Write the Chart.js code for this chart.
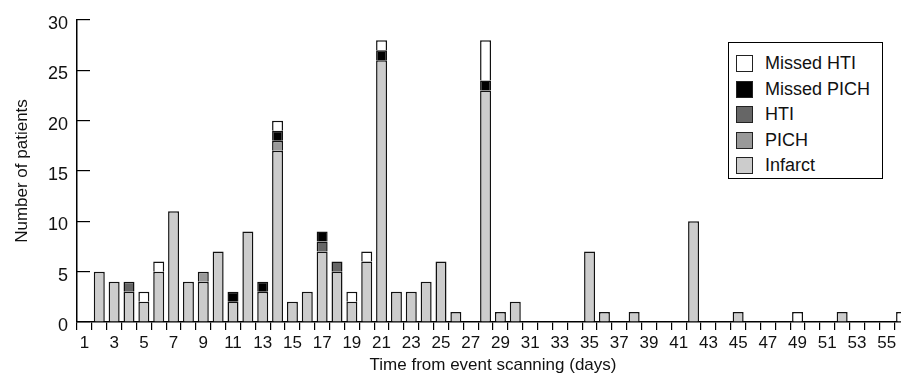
<!DOCTYPE html>
<html>
<head>
<meta charset="utf-8">
<script src="https://cdn.jsdelivr.net/npm/chart.js@4"></script>
<style>
  html, body { margin: 0; padding: 0; background: #fff; overflow: hidden; }
  #wrap { position: relative; width: 901px; height: 381px; overflow: hidden; }
  #legend {
    position: absolute; left: 728px; top: 42px; width: 155px; height: 137px;
    border: 1.5px solid #000; background: #fff; box-sizing: border-box;
    font-family: "Liberation Sans", Arial, sans-serif; font-size: 18px; color: #111;
    padding-top: 8px;
  }
  .item { display: flex; align-items: center; height: 25.5px; }
  .sw { width: 15px; height: 15px; border: 1.5px solid #222; margin-left: 7px; margin-right: 12px; }
</style>
</head>
<body>
<div id="wrap">
  <canvas id="chart" width="912" height="381"></canvas>
  <div id="legend"></div>
</div>
<script>
// days 1..56
const days = [];
for (let d = 1; d <= 56; d++) days.push(String(d));

const infarct = [0,5,4,3,2,5,11,4,4,7, 2,9,3,17,2,3,7,5,2,6, 26,3,3,4,6,1,0,23,1,2,
                 0,0,0,0,7,1,0,1,0,0, 0,10,0,0,1,0,0,0,0,0, 0,1,0,0,0,0];
const pich    = [0,0,0,0,0,0,0,0,1,0, 0,0,0,1,0,0,0,0,0,0, 0,0,0,0,0,0,0,0,0,0,
                 0,0,0,0,0,0,0,0,0,0, 0,0,0,0,0,0,0,0,0,0, 0,0,0,0,0,0];
const hti     = [0,0,0,1,0,0,0,0,0,0, 0,0,0,0,0,0,1,1,0,0, 0,0,0,0,0,0,0,0,0,0,
                 0,0,0,0,0,0,0,0,0,0, 0,0,0,0,0,0,0,0,0,0, 0,0,0,0,0,0];
const missedPich = [0,0,0,0,0,0,0,0,0,0, 1,0,1,1,0,0,1,0,0,0, 1,0,0,0,0,0,0,1,0,0,
                    0,0,0,0,0,0,0,0,0,0, 0,0,0,0,0,0,0,0,0,0, 0,0,0,0,0,0];
const missedHti  = [0,0,0,0,1,1,0,0,0,0, 0,0,0,1,0,0,0,0,1,1, 1,0,0,0,0,0,0,4,0,0,
                    0,0,0,0,0,0,0,0,0,0, 0,0,0,0,0,0,0,0,1,0, 0,0,0,0,0,1];

const yTicks = [0, 5, 10, 15, 20, 25, 30];

// bottom to top
const series = [
  { name: "Infarct", data: infarct, color: "#cccccc" },
  { name: "PICH", data: pich, color: "#999999" },
  { name: "HTI", data: hti, color: "#666666" },
  { name: "Missed PICH", data: missedPich, color: "#000000" },
  { name: "Missed HTI", data: missedHti, color: "#ffffff" }
];

const font = "'Liberation Sans', Arial, sans-serif";

const datasets = series.map(s => ({
  label: s.name,
  data: s.data.map(v => v === 0 ? null : v),
  backgroundColor: s.color,
  borderColor: "#111",
  borderWidth: 1.5,
  barPercentage: 0.74,
  categoryPercentage: 1.0
}));

new Chart(document.getElementById("chart"), {
  type: "bar",
  data: { labels: days, datasets: datasets },
  options: {
    responsive: false,
    animation: false,
    layout: { padding: { top: 20, right: 3, left: 0, bottom: 0 } },
    plugins: { legend: { display: false }, tooltip: { enabled: false } },
    scales: {
      x: {
        stacked: true,
        grid: { offset: true, drawOnChartArea: false, tickLength: 8, color: "#000", lineWidth: 1.2 },
        border: { color: "#000", width: 1.5 },
        ticks: {
          autoSkip: false, maxRotation: 0, padding: 3,
          color: "#111", font: { family: font, size: 17 },
          callback: function(v, i) { return (i % 2 === 0) ? days[i] : ""; }
        },
        title: {
          display: true, text: "Time from event scanning (days)",
          color: "#111", font: { family: font, size: 17 }, padding: { top: 0, bottom: 5 }
        },
        afterFit: function(scale) { scale.height = 59; }
      },
      y: {
        stacked: true,
        min: 0, max: 30,
        afterBuildTicks: function(scale) { scale.ticks = yTicks.map(v => ({ value: v })); },
        grid: { drawOnChartArea: false, tickLength: -13, color: "#000", lineWidth: 1.2 },
        border: { color: "#000", width: 1.5 },
        ticks: {
          padding: 22, labelOffset: 4,
          color: "#111", font: { family: font, size: 18 }
        },
        title: {
          display: true, text: "Number of patients",
          color: "#111", font: { family: font, size: 17 }, padding: { top: 12, bottom: 0 }
        },
        afterFit: function(scale) {
          scale.width = 77;
          scale.paddingTop = 0;
          scale.paddingBottom = 0;
        }
      }
    }
  }
});

// legend, top entry = top of stack
const legend = document.getElementById("legend");
series.slice().reverse().forEach(s => {
  const row = document.createElement("div");
  row.className = "item";
  const sw = document.createElement("span");
  sw.className = "sw";
  sw.style.background = s.color;
  const txt = document.createElement("span");
  txt.textContent = s.name;
  row.appendChild(sw);
  row.appendChild(txt);
  legend.appendChild(row);
});
</script>
</body>
</html>
